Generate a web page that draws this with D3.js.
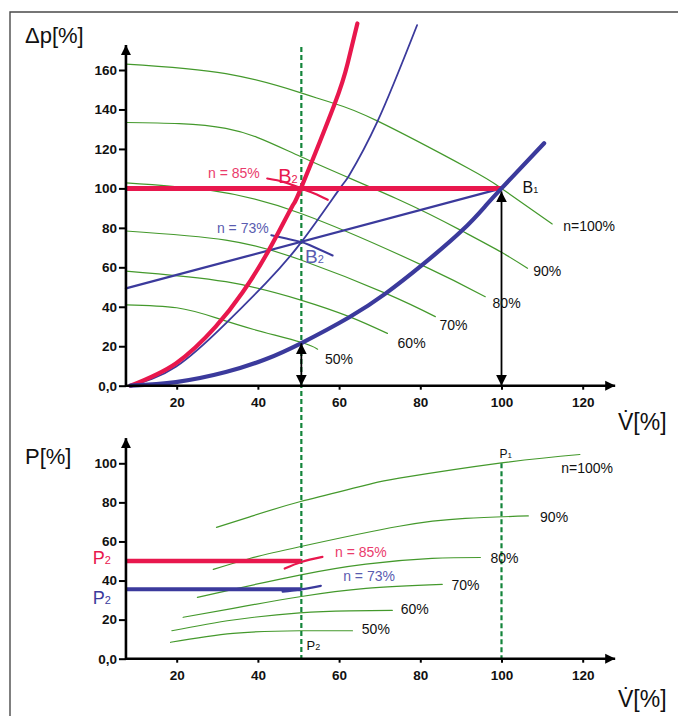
<!DOCTYPE html>
<html>
<head>
<meta charset="utf-8">
<script src="https://cdn.jsdelivr.net/npm/d3@7"></script>
<style>
  body { margin: 0; background: #fff; }
  svg { display: block; }
  text { font-family: "Liberation Sans", Arial, Helvetica, sans-serif; }
</style>
</head>
<body>
<svg id="chart" width="678" height="716"></svg>
<script>
// ---- axis ticks ----
const vTicks  = [20, 40, 60, 80, 100, 120];
const dpTicks = [0, 20, 40, 60, 80, 100, 120, 140, 160];
const pTicks  = [0, 20, 40, 60, 80, 100];

// ---- fan speeds ----
const speedNames = ["n=100%", "90%", "80%", "70%", "60%", "50%"];

// ---- pressure curves Δp(V) per speed, [V %, Δp %] ----
const head100 = [[7.5,163],[32.1,158.2],[50.6,148.4],[58.8,143],[69.4,134.2],[91.9,110.1],[100,100],[112.5,82]];
const head90  = [[7.5,133.4],[32.1,130.4],[50.6,116],[75,94],[90.2,78.5],[100,67.6],[106.4,59.5]];
const head80  = [[7.5,102.8],[28,99.1],[50.6,87.3],[80.4,61.1],[96,45.1]];
const head70  = [[7.5,78.4],[32.1,73.8],[50.6,63.7],[71.5,46.8],[83.7,35]];
const head60  = [[7.5,58.1],[32.1,52.7],[50.6,43.4],[62.5,35],[71.9,26.5]];
const head50  = [[7.5,41],[20,39.5],[29.5,34.5],[39,28.5],[50.6,22],[54.7,18.5]];

// ---- system curves, [V %, Δp %] ----
const sysB2red   = [[8.6,0],[19.8,11.3],[29.6,29.9],[36.2,47.2],[42.7,68.7],[48.4,90.7],[50.6,100],[58.8,142.2],[62.1,163.3],[64.5,183.6]];
const sysB2blue  = [[8.6,0],[19.8,9.6],[32.1,31.6],[41.9,51.9],[50.6,72.5],[60.2,100],[62.5,106.7],[69.4,133.7],[79.2,182.7]];
const sysB1      = [[8.6,0],[19.8,1.8],[32.1,6.9],[41.9,13.4],[50.6,21.5],[62.5,34.7],[71.5,46.8],[80.4,61.1],[90.2,78.5],[96,91],[100,100],[110.5,122.9]];
const throttleLine = [[7.5,49.3],[100,100]];
const constDp      = [[7.5,100],[100,100]];
const arc85top = [[42.3,105],[46.5,103.2],[50.6,100],[53.9,97.4],[57.2,94.2]];
const arc73top = [[43.3,76.3],[47,74.6],[50.6,72.9],[52.7,71.3],[58.4,66]];

// ---- power curves P(V) per speed, [V %, P %] ----
const power100 = [[29.8,67.2],[38,72.6],[50.3,80.3],[66.6,88.8],[74.8,92.4],[100,100.2],[119.3,104.5]];
const power90  = [[29,45.7],[38,51.3],[50.3,57.3],[74.8,67.8],[91.1,71.8],[106.6,73.1]];
const power80  = [[25.1,31.4],[33.9,35.5],[50.3,42.8],[66.6,48.4],[82.9,51.3],[94.8,51.8]];
const power70  = [[21.6,21.2],[33.9,25.8],[50.3,31.7],[66.6,36],[85.4,38]];
const power60  = [[18.8,14.3],[33.9,19.8],[50.3,23.5],[62.5,24.5],[73.1,24.7]];
const power50  = [[18.5,8.4],[33.9,13],[50.3,14.3],[63.3,14.3]];
const powerRed  = [[7.5,50],[50.7,50]];
const powerBlue = [[7.5,35.5],[50.7,35.5]];
const arc85bot = [[46.6,46.1],[50.7,49.5],[55.9,52.1]];
const arc73bot = [[46.1,34.3],[50.6,35.5],[55.5,37.3]];

// operating points
const vB2 = 50.7, dpB2low = 21.5, vB1 = 100, dpB1 = 100;

const headCurves  = [head100, head90, head80, head70, head60, head50];
const powerCurves = [power100, power90, power80, power70, power60, power50];

// ---- scales ----
const vMin = 7.5, vMax = 128;
const x    = d3.scaleLinear().domain([20, 120]).range([176.7, 582.7]);
const yTop = d3.scaleLinear().domain([0, 160]).range([385.7, 70]);
const yBot = d3.scaleLinear().domain([0, 100]).range([658.7, 463.3]);
const dpTop = 172.7, pTop = 112.9;

const C = {
  green: "#44992c", dash: "#13843a", red: "#e8174d", blue: "#3b3a9c",
  redText: "#ea3b6c", blueText: "#5a5cb0", ink: "#111"
};

const svg = d3.select("#chart");

// frame
svg.append("path").attr("d", "M10,716V12H678")
  .attr("fill", "none").attr("stroke", "#4a4a4a").attr("stroke-width", 1.4);

// arrowhead markers
const defs = svg.append("defs");
defs.append("marker").attr("id", "arr")
  .attr("viewBox", "0 0 10 10").attr("refX", 10).attr("refY", 5)
  .attr("markerWidth", 11).attr("markerHeight", 11)
  .attr("markerUnits", "userSpaceOnUse").attr("orient", "auto-start-reverse")
  .append("path").attr("d", "M0,0L10,5L0,10Z").attr("fill", "#000");
defs.append("marker").attr("id", "axarr")
  .attr("viewBox", "0 0 10 10").attr("refX", 10).attr("refY", 5)
  .attr("markerWidth", 10).attr("markerHeight", 11)
  .attr("markerUnits", "userSpaceOnUse").attr("orient", "auto")
  .append("path").attr("d", "M0,0L10,5L0,10Z").attr("fill", "#000");

const lineTop = d3.line().x(d => x(d[0])).y(d => yTop(d[1])).curve(d3.curveNatural);
const lineBot = d3.line().x(d => x(d[0])).y(d => yBot(d[1])).curve(d3.curveNatural);

function drawPath(gen, data, color, width, extra) {
  const p = svg.append("path").attr("d", gen(data)).attr("fill", "none")
    .attr("stroke", color).attr("stroke-width", width)
    .attr("stroke-linecap", "round").attr("stroke-linejoin", "round");
  if (extra) extra(p);
  return p;
}

function styleAxis(g) {
  g.select(".domain").remove();
  g.selectAll(".tick line").attr("stroke", "#000").attr("stroke-width", 2);
  g.selectAll(".tick text").attr("fill", C.ink).attr("font-size", 13.5)
    .attr("font-weight", "bold")
    .attr("font-family", "'Liberation Sans', Arial, Helvetica, sans-serif");
}
const fmt = d => d === 0 ? "0,0" : d;

// ---- top panel: Δp over V ----
headCurves.forEach(c => drawPath(lineTop, c, C.green, 1.2));

// ---- bottom panel: P over V ----
powerCurves.forEach(c => drawPath(lineBot, c, C.green, 1.2));

// dashed guides
svg.append("line").attr("x1", x(vB2)).attr("x2", x(vB2))
  .attr("y1", yTop(dpTop) + 2).attr("y2", yBot(0))
  .attr("stroke", C.dash).attr("stroke-width", 2.2).attr("stroke-dasharray", "5,3");
svg.append("line").attr("x1", x(vB1)).attr("x2", x(vB1))
  .attr("y1", yBot(100)).attr("y2", yBot(0))
  .attr("stroke", C.dash).attr("stroke-width", 2.2).attr("stroke-dasharray", "5,3");

// top panel marks
drawPath(lineTop, sysB2blue, C.blue, 1.8);
drawPath(lineTop, throttleLine, C.blue, 2.2);
drawPath(lineTop, arc73top, C.blue, 2);
drawPath(lineTop, constDp, C.red, 5, p => p.attr("stroke-linecap", "butt"));
drawPath(lineTop, sysB2red, C.red, 4.2);
drawPath(lineTop, arc85top, C.red, 2.2);
drawPath(lineTop, sysB1, C.blue, 4.2);

// bottom panel marks
drawPath(lineBot, powerRed, C.red, 4.5, p => p.attr("stroke-linecap", "butt"));
drawPath(lineBot, arc85bot, C.red, 2.2);
drawPath(lineBot, powerBlue, C.blue, 4, p => p.attr("stroke-linecap", "butt"));
drawPath(lineBot, arc73bot, C.blue, 2.2);

// double arrows
svg.append("line").attr("x1", x(vB2)).attr("x2", x(vB2))
  .attr("y1", yTop(0)).attr("y2", yTop(dpB2low))
  .attr("stroke", "#000").attr("stroke-width", 1.8)
  .attr("marker-start", "url(#arr)").attr("marker-end", "url(#arr)");
svg.append("line").attr("x1", x(vB1)).attr("x2", x(vB1))
  .attr("y1", yTop(0)).attr("y2", yTop(dpB1) + 3)
  .attr("stroke", "#000").attr("stroke-width", 1.8)
  .attr("marker-start", "url(#arr)").attr("marker-end", "url(#arr)");

// ---- axes ----
function axisLines(yScale, yMaxVal) {
  svg.append("line").attr("x1", x(vMin)).attr("x2", x(vMin))
    .attr("y1", yScale(0) + 1).attr("y2", yScale(yMaxVal))
    .attr("stroke", "#000").attr("stroke-width", 2.6).attr("marker-end", "url(#axarr)");
  svg.append("line").attr("x1", x(vMin) - 1).attr("x2", x(vMax))
    .attr("y1", yScale(0)).attr("y2", yScale(0))
    .attr("stroke", "#000").attr("stroke-width", 2.6).attr("marker-end", "url(#axarr)");
}
axisLines(yTop, dpTop);
axisLines(yBot, pTop);

svg.append("g").attr("transform", `translate(${x(vMin)},0)`)
  .call(d3.axisLeft(yTop).tickValues(dpTicks).tickSize(7).tickPadding(2).tickFormat(fmt))
  .call(styleAxis);
svg.append("g").attr("transform", `translate(0,${yTop(0)})`)
  .call(d3.axisBottom(x).tickValues(vTicks).tickSize(4).tickPadding(8))
  .call(styleAxis);
svg.append("g").attr("transform", `translate(${x(vMin)},0)`)
  .call(d3.axisLeft(yBot).tickValues(pTicks).tickSize(7).tickPadding(2).tickFormat(fmt))
  .call(styleAxis);
svg.append("g").attr("transform", `translate(0,${yBot(0)})`)
  .call(d3.axisBottom(x).tickValues(vTicks).tickSize(4).tickPadding(8))
  .call(styleAxis);

// axis titles
function txt(px, py, s, size, color, weight) {
  return svg.append("text").attr("x", px).attr("y", py).text(s)
    .attr("font-size", size).attr("fill", color || C.ink)
    .attr("font-weight", weight || "normal");
}
txt(25, 43, "Δp[%]", 22);
txt(25, 464, "P[%]", 22);
txt(618, 430, "V\u0307[%]", 23);
txt(618, 707, "V\u0307[%]", 23);

// label with subscript
function subLabel(px, py, main, sub, size, subSize, color) {
  const t = svg.append("text").attr("x", px).attr("y", py)
    .attr("font-size", size).attr("fill", color || C.ink);
  t.append("tspan").text(main);
  t.append("tspan").attr("font-size", subSize).text(sub);
  return t;
}

// speed labels, top panel (anchors in data units)
const topLabelAt = [[115.2,78.6],[107.8,55.6],[97.8,39.2],[84.7,28.2],[74.4,19.3],[56.5,11]];
speedNames.forEach((s, i) => txt(x(topLabelAt[i][0]), yTop(topLabelAt[i][1]), s, 14));
// speed labels, bottom panel
const botLabelAt = [[114.7,95.2],[109.5,70.1],[97.3,48.8],[87.7,35.2],[75.2,22.7],[65.6,12.5]];
speedNames.forEach((s, i) => txt(x(botLabelAt[i][0]), yBot(botLabelAt[i][1]), s, 14));

// operating point labels
txt(x(27.7), yTop(105.4), "n = 85%", 14, C.redText);
subLabel(x(45), yTop(102.9), "B", "2", 20, 11, C.red);
txt(x(29.9), yTop(77.2), "n = 73%", 14, C.blueText);
subLabel(x(51.6), yTop(62), "B", "2", 19, 11, C.blueText);
subLabel(x(105.2), yTop(97.8), "B", "1", 16, 9);

txt(x(59), yBot(51.9), "n = 85%", 14, C.redText);
txt(x(61), yBot(39.8), "n = 73%", 14, C.blueText);
subLabel(x(99.5), yBot(102.9), "P", "1", 12, 8);
subLabel(x(52), yBot(4.5), "P", "2", 13, 9);
subLabel(92.7, yBot(48.5), "P", "2", 18, 11, C.red);
subLabel(92.7, yBot(28), "P", "2", 18, 11, C.blue);
</script>
</body>
</html>
